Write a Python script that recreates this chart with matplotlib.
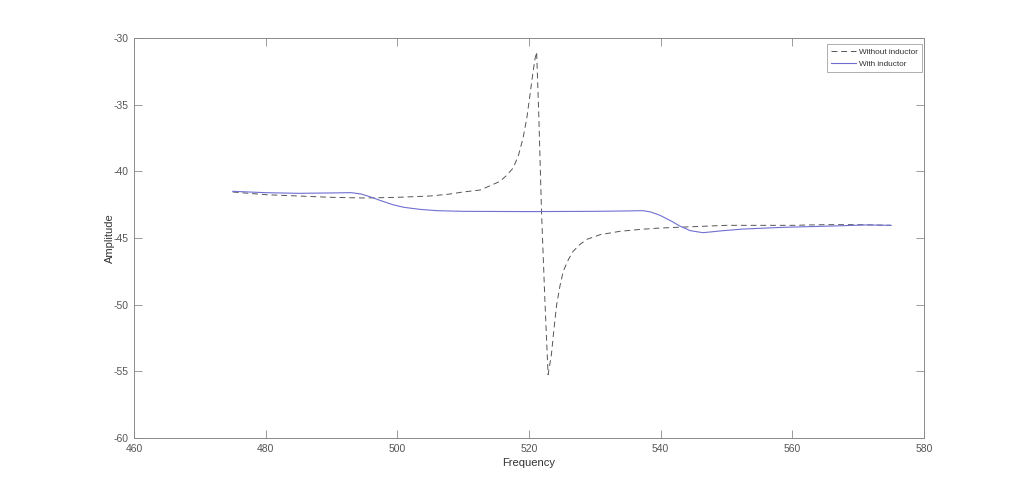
import numpy as np
import matplotlib
matplotlib.use('Agg')
import matplotlib.pyplot as plt

plt.rcParams['font.family'] = ['Liberation Sans', 'DejaVu Sans']
plt.rcParams['axes.unicode_minus'] = False

# =============================================================================
# data (frequency, amplitude)
# =============================================================================
f_without = [475, 480, 485, 490, 495, 500, 505, 508, 510, 512.6, 514, 515.6, 516.6,
             517.6, 518.4, 519.1, 519.7, 520.15, 520.6, 520.9, 521.16, 521.5, 521.9,
             522.4, 522.9, 523.4, 523.8, 524.2, 524.7, 525.2, 526.0, 526.7, 527.7,
             528.8, 530.8, 533.8, 537, 540, 545, 550, 555, 560, 565, 570, 575]
a_without = [-41.55, -41.75, -41.85, -41.95, -42.0, -41.95, -41.85, -41.7, -41.55, -41.4,
             -41.1, -40.75, -40.3, -39.75, -38.8, -37.5, -35.9, -34.25, -32.6, -31.6,
             -31.05, -36.0, -43.0, -49.5, -55.25, -53.75, -51.8, -50.0, -48.6, -47.5,
             -46.6, -46.0, -45.5, -45.1, -44.75, -44.5, -44.35, -44.25, -44.15, -44.05,
             -44.05, -44.05, -44.0, -44.0, -44.05]

f_with = [475, 480, 485, 490, 493, 494.5, 495.8, 497.5, 499.3, 501, 503.4, 506, 510,
          520, 530, 535, 537.3, 538.5, 539.9, 541.5, 542.9, 544.5, 546.4, 547.5, 549.5,
          552.5, 558.6, 566.2, 571.3, 575]
a_with = [-41.5, -41.6, -41.65, -41.62, -41.6, -41.7, -41.9, -42.2, -42.5, -42.7, -42.85,
          -42.95, -43.0, -43.02, -43.0, -42.97, -42.95, -43.05, -43.3, -43.7, -44.1,
          -44.45, -44.6, -44.55, -44.45, -44.33, -44.2, -44.1, -44.02, -44.05]

xticks = [460, 480, 500, 520, 540, 560, 580]
yticks = [-60, -55, -50, -45, -40, -35, -30]

fig = plt.figure(figsize=(10.24, 4.94), dpi=100)
ax = fig.add_axes([134/1024, 56/494, 790/1024, 400/494])

ax.plot(f_without, a_without, '--', color='#555555', lw=0.7, dashes=(6, 4),
        label='Without inductor')
ax.plot(f_with, a_with, '-', color='#6f6fd2', lw=0.8, label='With inductor')

ax.set_xlim(460, 580)
ax.set_ylim(-60, -30)
ax.set_xticks(xticks)
ax.set_yticks(yticks)
ax.tick_params(direction='in', length=5.5, width=0.6, top=True, right=True,
               labelsize=7.5, colors='#8a8a8a', labelcolor='#555555', pad=4)
for s in ax.spines.values():
    s.set_color('#8a8a8a')
    s.set_linewidth(0.7)

ax.set_xlabel('Frequency', fontsize=8, color='#333333', labelpad=3)
ax.set_ylabel('Amplitude', fontsize=8, color='#333333', labelpad=-1)

leg = ax.legend(loc='upper right', fontsize=5.9, frameon=True, fancybox=False,
                borderaxespad=0, handlelength=3.0, handletextpad=0.4,
                borderpad=0.5, labelspacing=0.5, bbox_to_anchor=(0.9975, 0.985))
leg.get_frame().set_edgecolor('#8a8a8a')
leg.get_frame().set_linewidth(0.6)
for t in leg.get_texts():
    t.set_color('#333333')

fig.savefig('out.png', dpi=100)
